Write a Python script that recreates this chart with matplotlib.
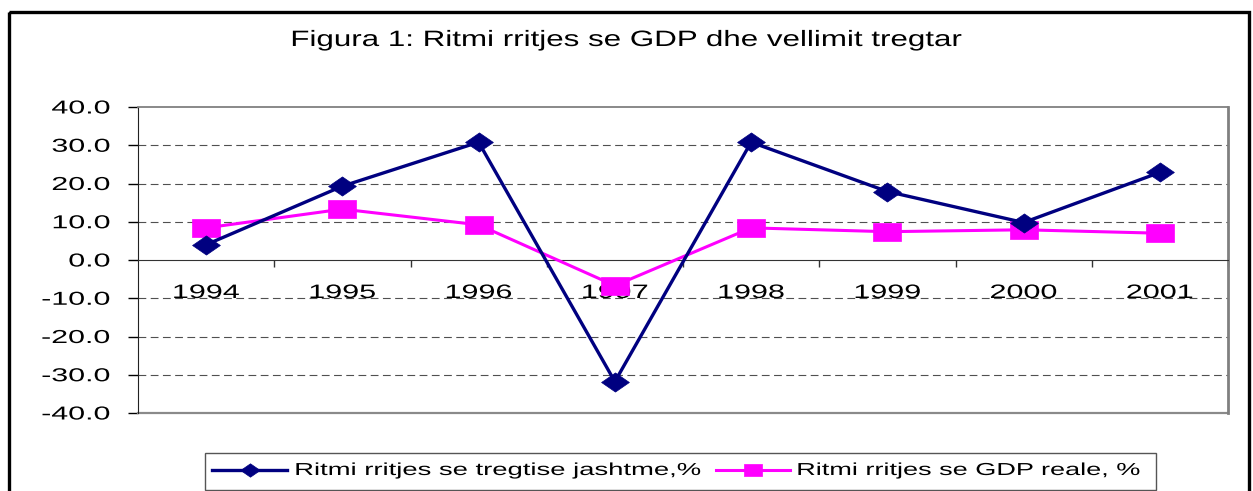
import matplotlib.pyplot as plt
from matplotlib.patches import Rectangle
from matplotlib.lines import Line2D
from matplotlib.transforms import Affine2D
from matplotlib import patheffects

plt.rcParams['font.family'] = ['Liberation Sans', 'DejaVu Sans']

years = ['1994', '1995', '1996', '1997', '1998', '1999', '2000', '2001']
trade_growth = [4.0, 19.3, 30.8, -31.8, 30.8, 17.9, 9.8, 22.9]
gdp_growth = [8.4, 13.3, 9.2, -6.7, 8.4, 7.4, 7.9, 7.0]
yticks = [-40, -30, -20, -10, 0, 10, 20, 30, 40]

title = 'Figura 1: Ritmi rritjes se GDP dhe vellimit tregtar'
label_trade = 'Ritmi rritjes se tregtise jashtme,%'
label_gdp = 'Ritmi rritjes se GDP reale, %'

NAVY = '#000080'
MAGENTA = '#FF00FF'


class Stretch(patheffects.AbstractPathEffect):
    """Widen glyphs horizontally (the original chart was stretched)."""

    def __init__(self, sx, anchor='center'):
        super().__init__()
        self.sx = sx
        self.anchor = anchor

    def draw_path(self, renderer, gc, tpath, affine, rgbFace=None):
        ext = tpath.get_extents()
        x0 = {'left': ext.x0, 'center': (ext.x0 + ext.x1) / 2, 'right': ext.x1}[self.anchor]
        st = Affine2D().translate(-x0, 0).scale(self.sx, 1).translate(x0, 0)
        renderer.draw_path(gc, tpath, st + affine, rgbFace)


# wide markers, same stretch as the picture
diamond = [(-1.45, 0), (0, 1), (1.45, 0), (0, -1), (-1.45, 0)]
square = [(-1.45, -1), (1.45, -1), (1.45, 1), (-1.45, 1), (-1.45, -1)]

W, H = 1253, 491
fig = plt.figure(figsize=(W / 100, H / 100), dpi=100)

ax = fig.add_axes([138 / W, 1 - 413 / H, 1090 / W, 306 / H])
# must come before tick styling: moving a spine resets the ticks
ax.spines['bottom'].set_position(('data', 0))
x = list(range(len(years)))

for v in [30, 20, 10, -10, -20, -30]:
    ax.axhline(v, color='#505050', linewidth=0.8, linestyle=(0, (7, 4)), zorder=1)

ax.plot(x, trade_growth, color=NAVY, linewidth=2.4, marker=diamond,
        markersize=20, markeredgewidth=0.5, zorder=4)
ax.plot(x, gdp_growth, color=MAGENTA, linewidth=2.2, marker=square,
        markersize=19.5, markeredgewidth=0.5, zorder=3)

ax.set_xlim(-0.5, len(years) - 0.5)
ax.set_ylim(-40, 40)
ax.set_yticks(yticks)
ax.set_yticklabels(['%.1f' % v for v in yticks], fontsize=13.5)
ax.tick_params(axis='y', direction='out', length=7, width=1, pad=13)

# category boundaries as major ticks, year labels on minor ticks
ax.set_xticks([i + 0.5 for i in x])
ax.set_xticklabels([])
ax.set_xticks(x, minor=True)
ax.set_xticklabels(years, minor=True)
ax.tick_params(axis='x', which='major', direction='out', length=5, width=1, color='#333333')
ax.tick_params(axis='x', which='minor', length=0, pad=18, labelsize=14)

plt.setp(ax.get_yticklabels(), path_effects=[Stretch(1.62, 'right')])
plt.setp(ax.get_xticklabels(minor=True), path_effects=[Stretch(1.57)])

ax.spines['bottom'].set_color('#333333')
ax.spines['left'].set_color('#222222')
ax.spines['top'].set_color('#808080')
ax.spines['top'].set_linewidth(1.3)
ax.spines['right'].set_color('#808080')
ax.spines['right'].set_linewidth(2)
ax.plot([0, 1], [0, 0], transform=ax.transAxes, color='#8a8a8a',
        linewidth=1.6, clip_on=False)

# overlay in pixel coordinates for frame, title and legend
ov = fig.add_axes([0, 0, 1, 1])
ov.set_xlim(0, W)
ov.set_ylim(H, 0)
ov.axis('off')

ov.add_patch(Rectangle((9, 12), 1240, 520, fill=False, edgecolor='black',
                       linewidth=2.4, clip_on=False))

ov.text(627, 46, title, ha='center', va='baseline', fontsize=16,
        path_effects=[Stretch(1.41)])

ov.add_patch(Rectangle((205, 453), 951, 37, fill=False, edgecolor='#555555',
                       linewidth=1.0))
ov.add_line(Line2D([212, 287], [470, 470], color=NAVY, linewidth=2.4))
ov.plot([249.5], [470], color=NAVY, marker=diamond, markersize=14, markeredgewidth=0.5)
ov.text(295, 475, label_trade, ha='left', va='baseline', fontsize=12.5,
        path_effects=[Stretch(1.58, 'left')])
ov.add_line(Line2D([716, 790], [470, 470], color=MAGENTA, linewidth=2.2))
ov.plot([753], [470], color=MAGENTA, marker=square, markersize=13, markeredgewidth=0.5)
ov.text(797, 475, label_gdp, ha='left', va='baseline', fontsize=12.5,
        path_effects=[Stretch(1.56, 'left')])

fig.savefig('out.png', dpi=100)
